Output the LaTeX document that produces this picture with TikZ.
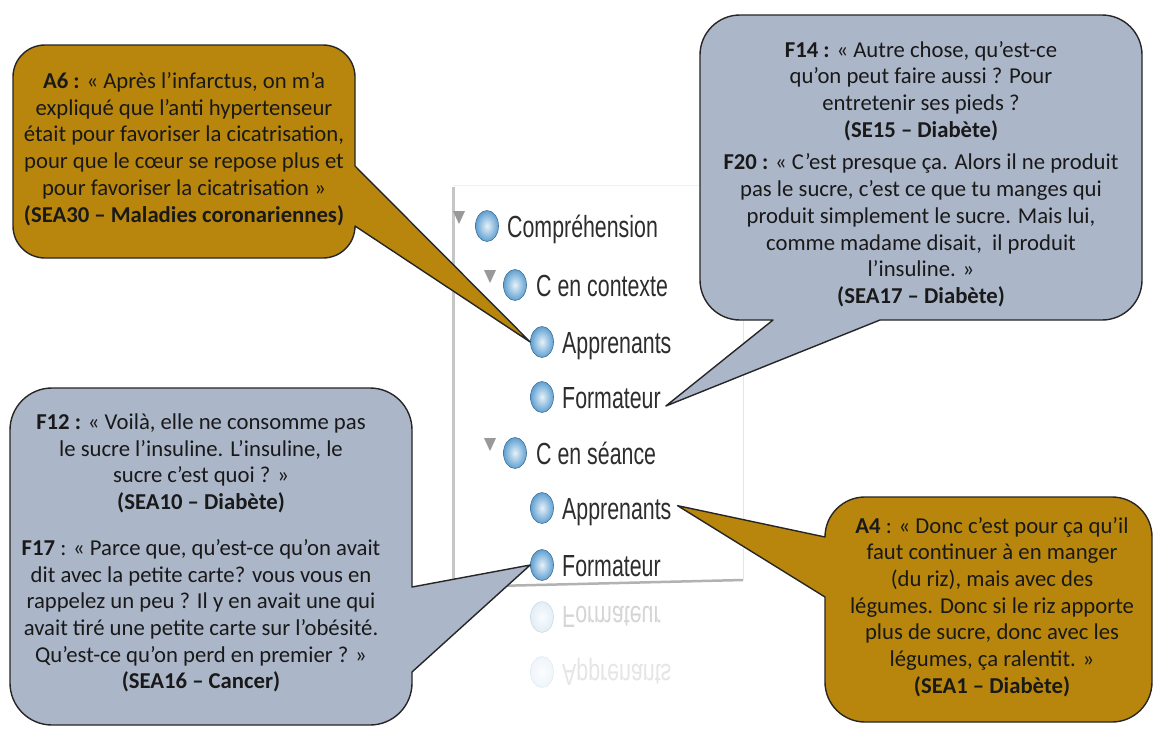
\documentclass[tikz,border=0pt]{standalone}
\usepackage{fontspec}
\setmainfont{Carlito}
\newfontfamily\treefont[FakeStretch=0.70]{Liberation Sans}
\usetikzlibrary{shapes.geometric,calc}
\definecolor{gold}{RGB}{184,134,12}
\definecolor{bluegray}{RGB}{172,182,201}
\definecolor{ballblue}{RGB}{95,160,210}
\definecolor{treegray}{RGB}{45,45,45}
\tikzset{
  calloutgold/.style={fill=gold, draw=black!85, line width=1.4pt, line join=round},
  calloutblue/.style={fill=bluegray, draw=black!85, line width=1.4pt, line join=round},
  quote/.style={font=\fontsize{22.7}{26.7}\selectfont, align=center, inner sep=0pt, text=black!90},
  ball/.style={ellipse, minimum width=23pt, minimum height=31pt, inner sep=0pt,
    draw=ballblue!70!black, line width=0.6pt, inner color=ballblue!15!white, outer color=ballblue},
  itemtext/.style={font=\treefont\fontsize{30.5}{33}\selectfont, text=treegray, anchor=base west, inner sep=0pt},
  expander/.style={fill=gray!80, draw=none}
}
\begin{document}
\begin{tikzpicture}[x=1pt,y=1pt]
\useasboundingbox (0,0) rectangle (1156,-731);
\fill[white] (0,0) rectangle (1156,-731);

% panel
\fill[white] (452,-185) rectangle (743,-588);
\draw[gray!12, line width=1pt] (453,-185) -- (743,-185);
\draw[gray!20, line width=1pt] (743,-185) -- (743,-580);
\draw[gray!45, line width=3pt] (453,-187) -- (453,-588);
\draw[gray!60, line width=2.5pt] (453,-587) -- (743,-580);

% tree
\fill[expander] (453,-211) -- (465,-211) -- (459,-224) -- cycle;
\node[ball] (b1) at (487,-226) {};
\node[itemtext] (t1) at (507,-237) {Compréhension};

\fill[expander] (484,-270) -- (496,-270) -- (490,-283) -- cycle;
\node[ball] (b2) at (515,-285) {};
\node[itemtext] (t2) at (536,-296) {C en contexte};

\node[ball] (b3) at (542,-342) {};
\node[itemtext] (t3) at (562,-353) {Apprenants};

\node[ball] (b4) at (542,-397) {};
\node[itemtext] (t4) at (562,-408) {Formateur};

\fill[expander] (484,-438) -- (496,-438) -- (490,-451) -- cycle;
\node[ball] (b5) at (515,-453) {};
\node[itemtext] (t5) at (536,-464) {C en séance};

\node[ball] (b6) at (542,-508) {};
\node[itemtext] (t6) at (562,-519) {Apprenants};

\node[ball] (b7) at (542,-565) {};
\node[itemtext] (t7) at (562,-576) {Formateur};

% reflections
\node[ball, opacity=0.18] (rb7) at (542,-617) {};
\node[itemtext, anchor=west, yscale=-1, opacity=0.2] (rt7) at (562,-617) {Formateur};
\node[ball, opacity=0.1] (rb6) at (542,-672) {};
\node[itemtext, anchor=west, yscale=-1, opacity=0.12] (rt6) at (562,-672) {Apprenants};

% A6 callout
\draw[calloutgold] (45,-45) -- (323,-45) arc[start angle=90,end angle=0,radius=32]
  -- (355,-166) -- (b3.west) -- (355,-226) arc[start angle=0,end angle=-90,radius=32]
  -- (45,-258) arc[start angle=-90,end angle=-180,radius=32]
  -- (13,-77) arc[start angle=180,end angle=90,radius=32] -- cycle;
\node[quote] (a6txt) at (184,-149) {\textbf{A6 :} « Après l’infarctus, on m’a\\
expliqué que l’anti hypertenseur\\
était pour favoriser la cicatrisation,\\
pour que le cœur se repose plus et\\
pour favoriser la cicatrisation »\\
\textbf{(SEA30 – Maladies coronariennes)}};

% F14 callout
\draw[calloutblue] (740,-15) -- (1102,-15) arc[start angle=90,end angle=0,radius=40]
  -- (1142,-280) arc[start angle=0,end angle=-90,radius=40]
  -- (880,-320) -- ($(t4.base east)+(5,2)$) -- (773,-320)
  -- (740,-320) arc[start angle=-90,end angle=-180,radius=40]
  -- (700,-55) arc[start angle=180,end angle=90,radius=40] -- cycle;
\node[quote] (f14txt) at (921,-174) {\textbf{F14 :} « Autre chose, qu’est-ce\\
qu’on peut faire aussi ? Pour\\
entretenir ses pieds ?\\
\textbf{(SE15 – Diabète)}\\[6pt]
\textbf{F20 :} « C’est presque ça. Alors il ne produit\\
pas le sucre, c’est ce que tu manges qui\\
produit simplement le sucre. Mais lui,\\
comme madame disait,~ il produit\\
l’insuline. »\\
\textbf{(SEA17 – Diabète)}};

% F12 callout
\draw[calloutblue] (52,-388) -- (370,-388) arc[start angle=90,end angle=0,radius=42]
  -- (412,-587) -- (b7.west) -- (412,-672)
  -- (412,-683) arc[start angle=0,end angle=-90,radius=42]
  -- (52,-725) arc[start angle=-90,end angle=-180,radius=42]
  -- (10,-430) arc[start angle=180,end angle=90,radius=42] -- cycle;
\node[quote] (f12txt) at (201,-553) {\textbf{F12 :} « Voilà, elle ne consomme pas\\
le sucre l’insuline. L’insuline, le\\
sucre c’est quoi ? »\\
\textbf{(SEA10 – Diabète)}\\[19pt]
\textbf{F17} : « Parce que, qu’est-ce qu’on avait\\
dit avec la petite carte? vous vous en\\
rappelez un peu ? Il y en avait une qui\\
avait tiré une petite carte sur l’obésité.\\
Qu’est-ce qu’on perd en premier ? »\\
\textbf{(SEA16 – Cancer)}};

% A4 callout
\draw[calloutgold] (865,-497) -- (1112,-497) arc[start angle=90,end angle=0,radius=40]
  -- (1152,-682) arc[start angle=0,end angle=-90,radius=40]
  -- (865,-722) arc[start angle=-90,end angle=-180,radius=40]
  -- (825,-597) -- ($(t6.east)+(6,6)$) -- (825,-537)
  arc[start angle=180,end angle=90,radius=40] -- cycle;
\node[quote] (a4txt) at (992,-607) {\textbf{A4} : « Donc c’est pour ça qu’il\\
faut continuer à en manger\\
(du riz), mais avec des\\
légumes. Donc si le riz apporte\\
plus de sucre, donc avec les\\
légumes, ça ralentit. »\\
\textbf{(SEA1 – Diabète)}};
\end{tikzpicture}
\end{document}
